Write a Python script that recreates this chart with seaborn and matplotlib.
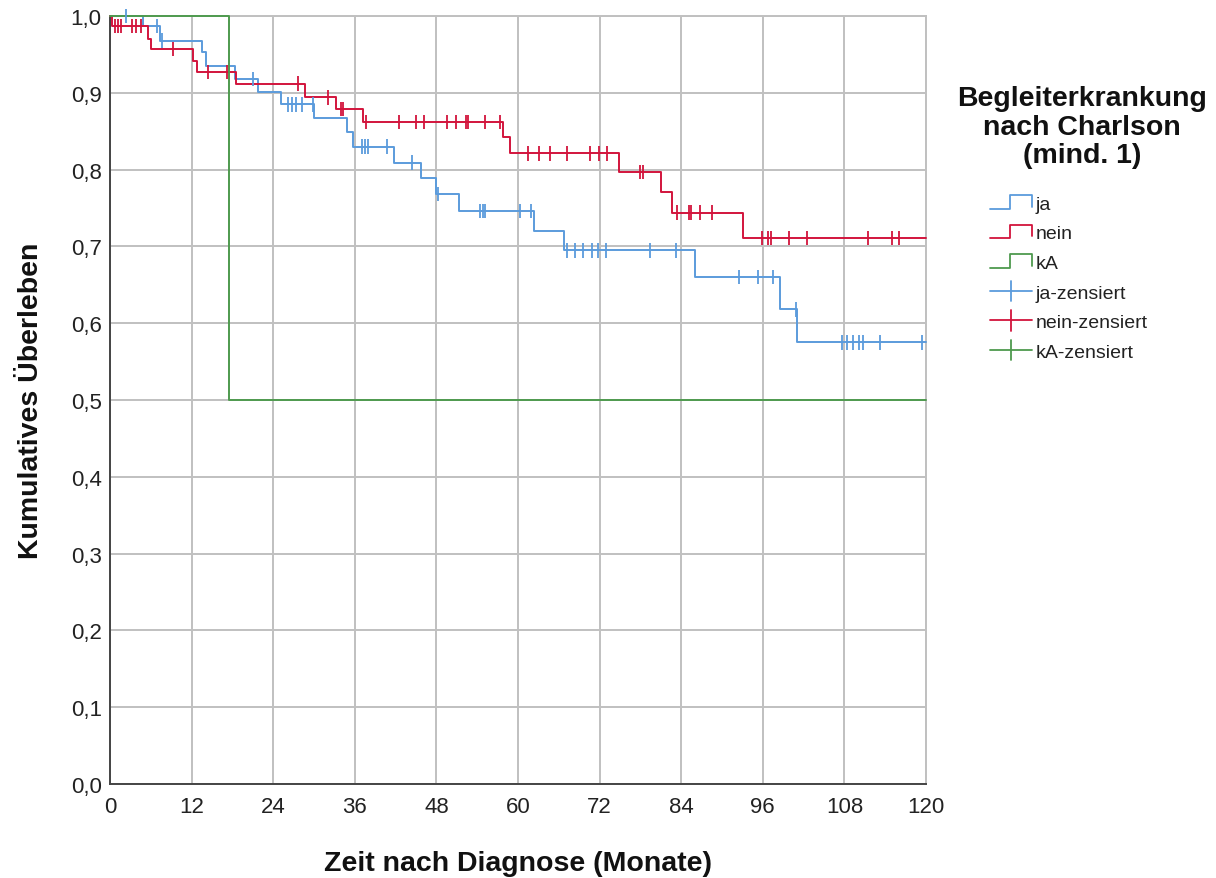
import numpy as np
import pandas as pd
import matplotlib
matplotlib.use("Agg")
import matplotlib.pyplot as plt
import seaborn as sns
from matplotlib.lines import Line2D
from matplotlib.legend_handler import HandlerBase

# ---------------- data ----------------
groups = ["ja", "nein", "kA"]
colors = {"ja": "#5b9bdc", "nein": "#d2143c", "kA": "#4e9a4e"}

ja_times = [0, 4.9, 7.3, 13.5, 14.1, 18.4, 21.8, 25.2, 30.0, 34.9, 35.7,
            41.7, 45.8, 48.0, 51.3, 62.4, 66.8, 86.1, 98.5, 101.1, 120]
ja_surv = [1.0, 0.987, 0.968, 0.953, 0.935, 0.918, 0.901, 0.885, 0.867, 0.849, 0.830,
           0.809, 0.789, 0.768, 0.746, 0.720, 0.695, 0.660, 0.618, 0.575, 0.575]
ja_censored = [2.4, 6.9, 7.6, 21.1, 26.2, 26.7, 27.3, 28.2, 29.8, 37.0, 37.5, 38.0,
               40.7, 44.4, 48.2, 54.4, 54.8, 55.1, 60.3, 61.9, 67.2, 68.4, 69.6,
               70.9, 71.8, 72.9, 79.4, 83.2, 92.5, 95.3, 97.5, 100.9, 107.7, 108.4,
               109.3, 110.2, 110.8, 113.2, 119.4]

nein_times = [0, 0.3, 5.6, 6.1, 12.2, 12.8, 18.6, 28.7, 33.2, 37.2, 57.8, 58.8,
              74.9, 81.1, 82.6, 93.1, 120]
nein_surv = [1.0, 0.987, 0.970, 0.957, 0.941, 0.927, 0.912, 0.894, 0.879, 0.862,
             0.842, 0.821, 0.797, 0.771, 0.744, 0.711, 0.711]
nein_censored = [0.8, 1.2, 1.6, 3.2, 3.8, 4.6, 9.3, 14.4, 17.2, 27.6, 32.1, 33.9,
                 34.2, 37.6, 42.5, 45.0, 46.2, 49.6, 50.9, 52.4, 52.7, 55.1, 57.4,
                 61.5, 63.1, 64.7, 67.2, 70.6, 71.9, 73.1, 78.0, 78.4, 83.4, 85.2,
                 85.5, 86.8, 88.5, 95.9, 96.8, 97.2, 99.9, 102.5, 111.5, 115.0, 116.0]

kA_times = [0, 17.5, 120]
kA_surv = [1.0, 0.5, 0.5]
kA_censored = []

x_ticks = [0, 12, 24, 36, 48, 60, 72, 84, 96, 108, 120]
y_ticks = [0.0, 0.1, 0.2, 0.3, 0.4, 0.5, 0.6, 0.7, 0.8, 0.9, 1.0]
y_ticklabels = ["0,0", "0,1", "0,2", "0,3", "0,4", "0,5", "0,6", "0,7", "0,8", "0,9", "1,0"]

legend_title = "Begleiterkrankung\nnach Charlson\n(mind. 1)"
x_label = "Zeit nach Diagnose (Monate)"
y_label = "Kumulatives Überleben"

# ---------------- build tables ----------------
curve_src = {"ja": (ja_times, ja_surv, ja_censored),
             "nein": (nein_times, nein_surv, nein_censored),
             "kA": (kA_times, kA_surv, kA_censored)}

curves = pd.concat([pd.DataFrame({"time": t, "surv": s, "group": g})
                    for g, (t, s, c) in curve_src.items()], ignore_index=True)

cens_rows = []
for g, (t, s, c) in curve_src.items():
    t_arr = np.asarray(t)
    for ct in c:
        idx = np.searchsorted(t_arr, ct, side="right") - 1
        cens_rows.append({"time": ct, "surv": s[idx], "group": g})
censors = pd.DataFrame(cens_rows, columns=["time", "surv", "group"])

# ---------------- plot ----------------
sns.set_theme(style="white")
plt.rcParams["font.family"] = ["Liberation Sans", "DejaVu Sans"]

fig = plt.figure(figsize=(12.16, 8.79), dpi=100)
ax = fig.add_axes([110 / 1216, 1 - 785 / 879, 816 / 1216, 768 / 879])

ax.set_xlim(0, 120)
ax.set_ylim(0, 1.0)
ax.set_xticks(x_ticks)
ax.set_yticks(y_ticks)
ax.set_yticklabels(y_ticklabels)
ax.grid(True, color="#c0c0c0", linewidth=1.4)
ax.set_axisbelow(True)

sns.lineplot(data=curves, x="time", y="surv", hue="group", palette=colors,
             hue_order=groups, drawstyle="steps-post", estimator=None, sort=False,
             linewidth=1.4, legend=False, ax=ax, clip_on=False, zorder=3)
if len(censors):
    sns.scatterplot(data=censors, x="time", y="surv", hue="group", palette=colors,
                    hue_order=groups, marker="|", s=110, linewidth=1.3,
                    legend=False, ax=ax, zorder=4, clip_on=False)

for side in ["top", "right"]:
    ax.spines[side].set_color("#c0c0c0")
    ax.spines[side].set_linewidth(1.4)
for side in ["left", "bottom"]:
    ax.spines[side].set_color("#444444")
    ax.spines[side].set_linewidth(1.4)

ax.tick_params(axis="both", length=0, colors="#222222", labelsize=16)
ax.tick_params(axis="x", pad=9)
ax.tick_params(axis="y", pad=6)

ax.set_xlabel(x_label, fontsize=20.5, fontweight="bold", color="#111111")
ax.set_ylabel(y_label, fontsize=20.5, fontweight="bold", color="#111111")
ax.xaxis.set_label_coords(0.5, -0.086)
ax.yaxis.set_label_coords(-0.081, 0.5)


# ---------------- legend ----------------
class StepHandle:
    def __init__(self, color):
        self.color = color


class CensorHandle:
    def __init__(self, color):
        self.color = color


class StepHandler(HandlerBase):
    def create_artists(self, legend, orig_handle, xdescent, ydescent, width,
                       height, fontsize, trans):
        x0, y0 = -xdescent, -ydescent
        xm = x0 + 0.48 * width
        lo, hi = y0 + 0.0 * height, y0 + 1.0 * height
        ln = Line2D([x0, xm, xm, x0 + width, x0 + width],
                    [lo, lo, hi, hi, y0 + 0.15 * height],
                    color=orig_handle.color, lw=1.3)
        ln.set_transform(trans)
        return [ln]


class CensorHandler(HandlerBase):
    def create_artists(self, legend, orig_handle, xdescent, ydescent, width,
                       height, fontsize, trans):
        x0, y0 = -xdescent, -ydescent
        yc = y0 + 0.5 * height
        xm = x0 + 0.5 * width
        h = Line2D([x0, x0 + width], [yc, yc], color=orig_handle.color, lw=1.3)
        v = Line2D([xm, xm], [yc - 0.75 * height, yc + 0.75 * height],
                   color=orig_handle.color, lw=1.3)
        h.set_transform(trans)
        v.set_transform(trans)
        return [h, v]


handles = [StepHandle(colors[g]) for g in groups] + [CensorHandle(colors[g]) for g in groups]
labels = groups + [g + "-zensiert" for g in groups]

fig.text(1082 / 1216, 1 - 86 / 879, legend_title, ha="center", va="top",
         fontsize=20.5, fontweight="bold", multialignment="center",
         linespacing=1.13, color="#111111")

leg = fig.legend(handles, labels, loc="upper left",
                 bbox_to_anchor=(990 / 1216, 1 - 196 / 879),
                 handler_map={StepHandle: StepHandler(), CensorHandle: CensorHandler()},
                 frameon=False, fontsize=14, handlelength=2.15, handletextpad=0.2,
                 labelspacing=0.62, borderpad=0, borderaxespad=0)
for t in leg.get_texts():
    t.set_color("#222222")

fig.savefig("out.png", dpi=100)
